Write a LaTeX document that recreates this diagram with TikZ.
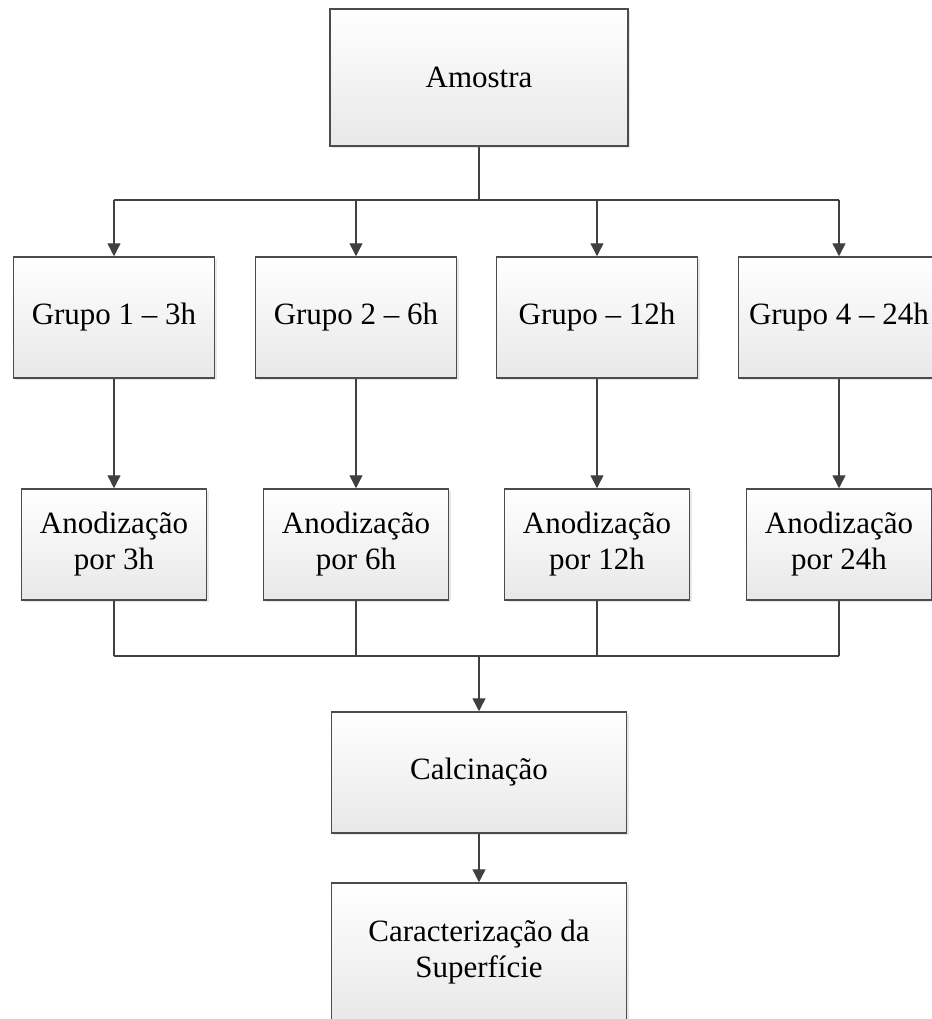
\documentclass[tikz,border=0pt]{standalone}
\usepackage{fontspec}
\setmainfont{Liberation Serif}
\usepackage{tikz}
\usetikzlibrary{arrows.meta,shadows}

\begin{document}
\begin{tikzpicture}[x=0.5pt, y=-0.5pt,
  font=\fontsize{15.5}{18}\selectfont,
  box/.style={draw=black!70, line width=0.75pt, top color=white, bottom color=black!9,
    drop shadow={opacity=0.18, shadow xshift=1.2pt, shadow yshift=-1.2pt},
    align=center, inner sep=0pt},
  flow/.style={draw=black!75, line width=0.7pt},
  tip/.style={flow, -{Triangle[width=6.5pt,length=6.5pt]}}]
\useasboundingbox (0,0) rectangle (932,1019);
\clip (0,0) rectangle (932,1019);
% top sample
\node[box, minimum width=149pt, minimum height=68.5pt] (amostra) at (479,77.5) {Amostra};
% groups
\node[box, minimum width=100.5pt, minimum height=60.5pt] (g1) at (114,317.5) {Grupo 1 -- 3h};
\node[box, minimum width=100.5pt, minimum height=60.5pt] (g2) at (356,317.5) {Grupo 2 -- 6h};
\node[box, minimum width=100.5pt, minimum height=60.5pt] (g3) at (597,317.5) {Grupo -- 12h};
\node[box, minimum width=100.5pt, minimum height=60.5pt] (g4) at (839,317.5) {Grupo 4 -- 24h};
% anodization
\node[box, minimum width=92.5pt, minimum height=55.5pt] (a1) at (114,544.5) {Anodização\\por 3h};
\node[box, minimum width=92.5pt, minimum height=55.5pt] (a2) at (356,544.5) {Anodização\\por 6h};
\node[box, minimum width=92.5pt, minimum height=55.5pt] (a3) at (597,544.5) {Anodização\\por 12h};
\node[box, minimum width=92.5pt, minimum height=55.5pt] (a4) at (839,544.5) {Anodização\\por 24h};
% final steps
\node[box, minimum width=147.5pt, minimum height=60.5pt] (calc) at (479,772.5) {Calcinação};
\node[box, minimum width=147.5pt, minimum height=69pt] (carac) at (479,952) {Caracterização da\\Superfície};
% split bus
\coordinate (split) at (479,200);
\draw[flow] (amostra.south) -- (split);
\draw[flow] (split -| g1.north) -- (split -| g4.north);
\foreach \g/\a in {g1/a1,g2/a2,g3/a3,g4/a4} {
  \draw[tip] (split -| \g.north) -- (\g.north);
  \draw[tip] (\g.south) -- (\a.north);
}
% join bus
\coordinate (join) at (479,656);
\foreach \a in {a1,a2,a3,a4}
  \draw[flow] (\a.south) -- (join -| \a.south);
\draw[flow] (join -| a1.south) -- (join -| a4.south);
\draw[tip] (join) -- (calc.north);
\draw[tip] (calc.south) -- (carac.north);
\end{tikzpicture}
\end{document}
